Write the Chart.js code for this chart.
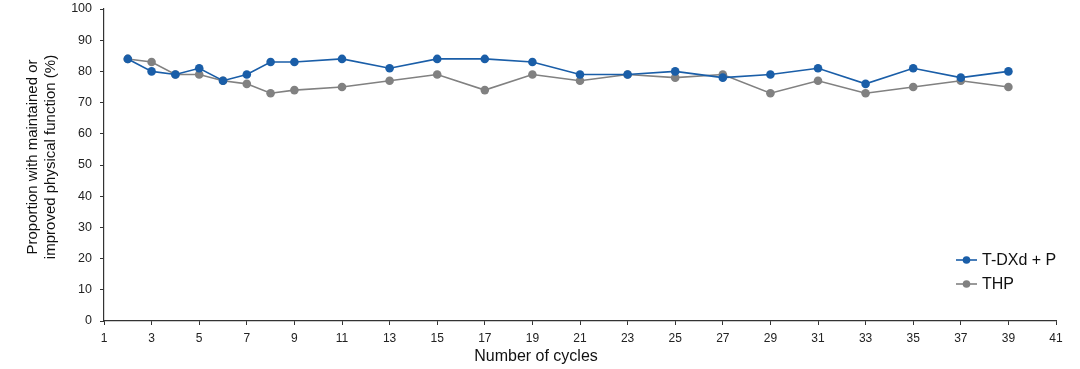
<!DOCTYPE html>
<html>
<head>
<meta charset="utf-8">
<script src="https://cdn.jsdelivr.net/npm/chart.js@4/dist/chart.umd.min.js"></script>
<style>
  html, body { margin: 0; padding: 0; background: #fff; }
  #wrap { width: 1080px; height: 369px; position: relative; }
</style>
</head>
<body>
<div id="wrap"><canvas id="chart"></canvas></div>
<script>
// ===== Data =====
const cycles = [2, 3, 4, 5, 6, 7, 8, 9, 11, 13, 15, 17, 19, 21, 23, 25, 27, 29, 31, 33, 35, 37, 39];
const tdxdValues = [84, 80, 79, 81, 77, 79, 83, 83, 84, 81, 84, 84, 83, 79, 79, 80, 78, 79, 81, 76, 81, 78, 80];
const thpValues = [84, 83, 79, 79, 77, 76, 73, 74, 75, 77, 79, 74, 79, 77, 79, 78, 79, 73, 77, 73, 75, 77, 75];
const seriesNames = ['T-DXd + P', 'THP'];
const seriesColors = ['#1a5ea8', '#818181'];
const xTickMin = 1, xTickMax = 41, xTickStep = 2;
const yTickMin = 0, yTickMax = 100, yTickStep = 10;
const xTitle = 'Number of cycles';
const yTitle = ['Proportion with maintained or', 'improved physical function (%)'];

const font = 'Liberation Sans, Arial, sans-serif';

function toPoints(values) {
    return cycles.map((c, i) => ({ x: c, y: values[i] }));
}

// ===== Axis titles + legend, placed like the reference =====
const annotations = {
    id: 'annotations',
    afterDraw(chart) {
        const ctx = chart.ctx;
        ctx.save();
        ctx.fillStyle = '#111';
        ctx.textAlign = 'center';
        ctx.textBaseline = 'middle';

        // x title
        ctx.font = '16px ' + font;
        ctx.fillText(xTitle, 536, 357);

        // y title (rotated, two lines)
        ctx.save();
        ctx.font = '15px ' + font;
        ctx.rotate(-Math.PI / 2);
        ctx.fillText(yTitle[0], -157, 33);
        ctx.fillText(yTitle[1], -157, 51);
        ctx.restore();

        // legend
        const x0 = 956, y0 = 260, gap = 24;
        chart.data.datasets.forEach((ds, i) => {
            const y = y0 + i * gap;
            ctx.strokeStyle = ds.borderColor;
            ctx.lineWidth = 1.6;
            ctx.beginPath();
            ctx.moveTo(x0, y);
            ctx.lineTo(x0 + 21, y);
            ctx.stroke();
            ctx.fillStyle = ds.borderColor;
            ctx.beginPath();
            ctx.arc(x0 + 10.5, y, 3.8, 0, Math.PI * 2);
            ctx.fill();
            ctx.fillStyle = '#111';
            ctx.font = '16px ' + font;
            ctx.textAlign = 'left';
            ctx.fillText(ds.label, x0 + 26, y + 1);
        });
        ctx.restore();
    }
};

const datasets = [tdxdValues, thpValues].map((vals, i) => ({
    label: seriesNames[i],
    data: toPoints(vals),
    borderColor: seriesColors[i],
    backgroundColor: seriesColors[i],
    borderWidth: 1.6,
    pointRadius: 4.3,
    pointBorderWidth: 0,
    pointHoverRadius: 4.3,
    tension: 0,
    order: i === 0 ? 0 : 1
}));

new Chart(document.getElementById('chart'), {
    type: 'line',
    data: { datasets },
    options: {
        responsive: true,
        maintainAspectRatio: false,
        animation: false,
        layout: { padding: { top: 9, right: 24, left: 0, bottom: 0 } },
        plugins: { legend: { display: false }, tooltip: { enabled: false } },
        scales: {
            x: {
                type: 'linear',
                min: xTickMin,
                max: xTickMax,
                afterFit: s => { s.height = 48; s.paddingLeft = 0; s.paddingRight = 0; },
                ticks: {
                    stepSize: xTickStep,
                    color: '#222',
                    font: { family: font, size: 12 },
                    padding: 6,
                    maxRotation: 0
                },
                grid: { display: true, drawOnChartArea: false, drawTicks: true, tickLength: 4, color: '#333' },
                border: { display: true, color: '#333', width: 1.2 }
            },
            y: {
                min: yTickMin,
                max: yTickMax,
                afterFit: s => { s.width = 104; s.paddingTop = 0; s.paddingBottom = 0; },
                ticks: {
                    stepSize: yTickStep,
                    color: '#222',
                    font: { family: font, size: 12.5 },
                    padding: 8
                },
                grid: { display: true, drawOnChartArea: false, drawTicks: true, tickLength: 4, color: '#333' },
                border: { display: true, color: '#333', width: 1.2 }
            }
        }
    },
    plugins: [annotations]
});
</script>
</body>
</html>
